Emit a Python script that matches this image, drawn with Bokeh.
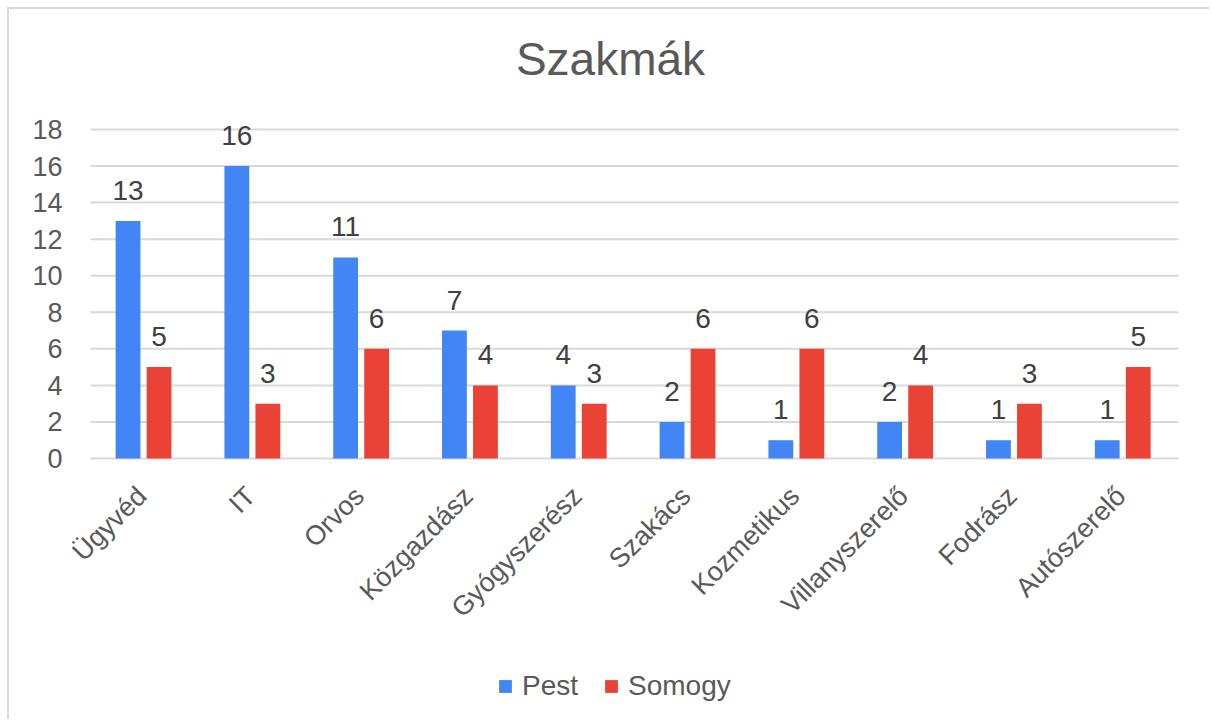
import math
from bokeh.plotting import figure
from bokeh.layouts import column
from bokeh.core.properties import value
from bokeh.models import (ColumnDataSource, Range1d, Legend, LegendItem, LabelSet, Label)
from bokeh.transform import dodge
from bokeh.embed import file_html
from bokeh.resources import INLINE

categories = ["Ügyvéd", "IT", "Orvos", "Közgazdász", "Gyógyszerész", "Szakács",
              "Kozmetikus", "Villanyszerelő", "Fodrász", "Autószerelő"]
pest = [13, 16, 11, 7, 4, 2, 1, 2, 1, 1]
somogy = [5, 3, 6, 4, 3, 6, 6, 4, 3, 5]
y_ticks = [0, 2, 4, 6, 8, 10, 12, 14, 16, 18]
title_text = "Szakmák"
series_names = ["Pest", "Somogy"]

BLUE = "#4285F4"
RED = "#EA4335"
GRID = "#d9d9d9"
FONT = "Liberation Sans"

n = len(categories)
src = ColumnDataSource(dict(x=[i + 0.5 for i in range(n)], cat=categories, pest=pest,
                            somogy=somogy, zero=[0] * n,
                            pest_lbl=[str(v) for v in pest],
                            somogy_lbl=[str(v) for v in somogy]))
tick_src = ColumnDataSource(dict(y=y_ticks, lbl=[str(t) for t in y_ticks],
                                 x0=[0] * len(y_ticks), x1=[n] * len(y_ticks)))

# page geometry: figure at (9, 9), 1200 x 710; plot area x 90..1178, y 129 (18) .. 458 (0)
PXY = (458 - 129) / 18.0
PXX = (1178 - 90) / n
x_range = Range1d((9 - 90) / PXX, (1209 - 90) / PXX)
y_range = Range1d(-(719 - 458) / PXY, 18 + (129 - 9) / PXY)

p = figure(x_range=x_range, y_range=y_range,
           width=1200, height=710, output_backend="svg", toolbar_location=None,
           min_border_left=0, min_border_right=0, min_border_top=0, min_border_bottom=0)
p.xaxis.visible = False
p.yaxis.visible = False
p.xgrid.visible = False
p.ygrid.visible = False
p.outline_line_color = None
p.background_fill_color = "white"
p.border_fill_color = "white"

# horizontal gridlines and y tick labels
p.segment(x0="x0", x1="x1", y0="y", y1="y", source=tick_src, line_color=GRID, line_width=2)
p.add_layout(LabelSet(x="x0", y="y", text="lbl", source=tick_src, x_offset=-28,
                      text_align="right", text_baseline="middle", text_font=value(FONT),
                      text_font_size=value("27px"), text_color=value("#595959")))

b1 = p.vbar(x=dodge("x", -0.155), top="pest", width=0.228, source=src,
            fill_color=BLUE, line_color=None)
b2 = p.vbar(x=dodge("x", 0.13), top="somogy", width=0.228, source=src,
            fill_color=RED, line_color=None)

lbl_style = dict(text_font_size=value("28px"), text_color=value("#404040"), text_align="center",
                 text_baseline="alphabetic", y_offset=21, text_font=value(FONT))
p.add_layout(LabelSet(x=dodge("x", -0.155), y="pest", text="pest_lbl", source=src, **lbl_style))
p.add_layout(LabelSet(x=dodge("x", 0.13), y="somogy", text="somogy_lbl", source=src, **lbl_style))

# category labels
p.add_layout(LabelSet(x="x", y="zero", text="cat", source=src, angle=math.pi / 4,
                      text_align="right", text_baseline="middle", y_offset=-33, x_offset=-3,
                      text_font=value(FONT), text_font_size=value("27px"),
                      text_color=value("#595959")))

# title
p.add_layout(Label(x=(610 - 90) / PXX, y=18 + (129 - 58) / PXY, text=title_text,
                   text_align="center", text_baseline="alphabetic", text_font=FONT,
                   text_font_size="46px", text_color="#595959"))

legend = Legend(items=[LegendItem(label=series_names[0], renderers=[b1]),
                       LegendItem(label=series_names[1], renderers=[b2])],
                orientation="horizontal", location=(488, 17),
                label_text_font=FONT, label_text_font_size="28px", label_text_color="#595959",
                glyph_width=16, glyph_height=16, spacing=25, label_standoff=9,
                border_line_color=None, background_fill_alpha=0, margin=0, padding=0)
p.add_layout(legend, "center")

layout = column(p, margin=(7, 0, 0, 7),
                styles={"border-top": "2px solid #d9d9d9", "border-left": "2px solid #d9d9d9"})

open("out.html", "w").write(file_html(layout, INLINE))
